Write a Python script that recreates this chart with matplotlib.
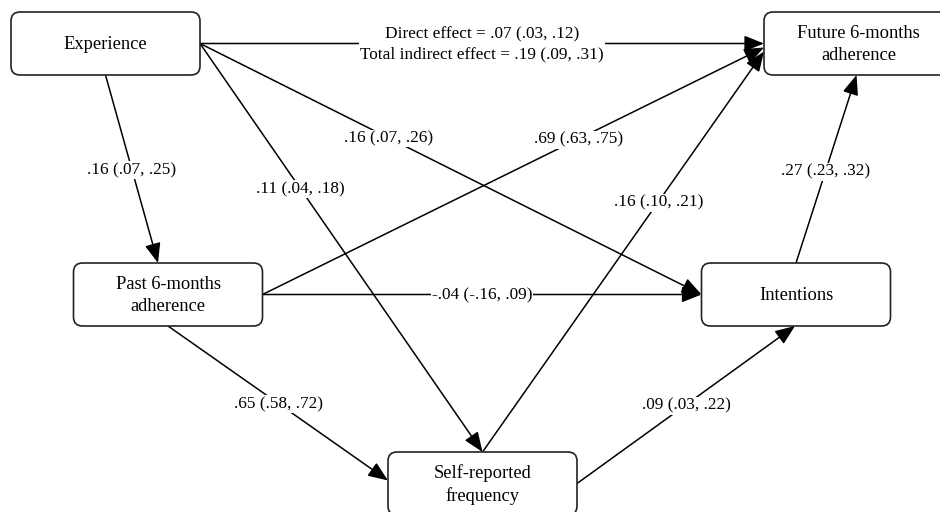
import matplotlib
matplotlib.use("Agg")
import matplotlib.pyplot as plt
from matplotlib.patches import FancyBboxPatch, FancyArrowPatch

# node names
nodes = ["Experience", "Past 6-months\nadherence", "Self-reported\nfrequency",
         "Intentions", "Future 6-months\nadherence"]

# paths: source, target, estimate (95% CI)
src = [0, 0, 0, 0, 1, 1, 1, 2, 2, 3]
dst = [4, 1, 2, 3, 4, 3, 2, 4, 3, 4]
coef = ["Direct effect = .07 (.03, .12)\nTotal indirect effect = .19 (.09, .31)",
        ".16 (.07, .25)", ".11 (.04, .18)", ".16 (.07, .26)", ".69 (.63, .75)",
        "-.04 (-.16, .09)", ".65 (.58, .72)", ".16 (.10, .21)", ".09 (.03, .22)",
        ".27 (.23, .32)"]

# layout (pixel units, y down)
centers = [(105.5, 43.5), (168, 294.5), (482.5, 483.5), (796, 294.5), (858.5, 43.5)]
bw, bh = 189, 63
# anchor sides for each path: (side at source, side at target, target offset)
sides = [("r", "l", 0), ("b", "t", -10), ("r", "t", 0), ("r", "l", 0), ("r", "l", 4),
         ("r", "l", 0), ("b", "l", -3), ("t", "l", 8), ("r", "b", -1), ("t", "b", -2)]
label_t = [0.5, 0.5, 0.354, 0.375, 0.63, 0.5, 0.5, 0.625, 0.5, 0.49]


def anchor(i, side, off=0):
    cx, cy = centers[i]
    if side == "r":
        return (cx + bw / 2, cy + off)
    if side == "l":
        return (cx - bw / 2, cy + off)
    if side == "t":
        return (cx + off, cy - bh / 2)
    return (cx + off, cy + bh / 2)


plt.rcParams["font.family"] = ["Liberation Serif", "DejaVu Serif"]
fig = plt.figure(figsize=(9.4, 5.12), dpi=100)
ax = fig.add_axes([0, 0, 1, 1])
ax.set_xlim(0, 940)
ax.set_ylim(512, 0)
ax.axis("off")

for k in range(len(src)):
    s_side, d_side, off = sides[k]
    p0 = anchor(src[k], s_side)
    p1 = anchor(dst[k], d_side, off)
    ax.add_patch(FancyArrowPatch(p0, p1, arrowstyle="-|>,head_length=0.55,head_width=0.22",
                                 mutation_scale=22, shrinkA=0, shrinkB=0,
                                 color="black", lw=1.1, zorder=1))
    t = label_t[k]
    lx = p0[0] + t * (p1[0] - p0[0])
    ly = p0[1] + t * (p1[1] - p0[1])
    ax.text(lx, ly + 1, coef[k], ha="center", va="center", fontsize=12.4,
            linespacing=1.33, zorder=4,
            bbox=dict(facecolor="white", edgecolor="none", pad=0.6))

for i, name in enumerate(nodes):
    cx, cy = centers[i]
    ax.add_patch(FancyBboxPatch((cx - bw / 2, cy - bh / 2), bw, bh,
                                boxstyle="round,pad=0,rounding_size=9",
                                facecolor="white", edgecolor="#222222", lw=1.2, zorder=3))
    ax.text(cx, cy + 1, name, ha="center", va="center", fontsize=13.3,
            linespacing=1.4, zorder=5)

plt.savefig("out.png", dpi=100)
